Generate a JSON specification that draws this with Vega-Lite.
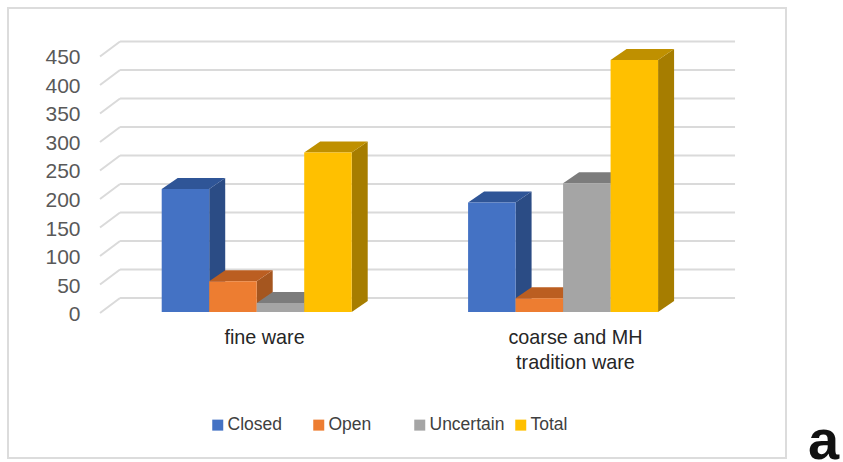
{
  "$schema": "https://vega.github.io/schema/vega-lite/v6.json",
  "width": 778,
  "height": 450,
  "autosize": "none",
  "padding": {"left": 8, "top": 8, "right": 57, "bottom": 4},
  "background": "white",
  "view": {"stroke": "#dcdcdc", "strokeWidth": 2, "fill": "white"},
  "datasets": {
    "bars": [
      {"category": "fine ware", "series": "Closed", "value": 216},
      {"category": "fine ware", "series": "Open", "value": 54},
      {"category": "fine ware", "series": "Uncertain", "value": 16},
      {"category": "fine ware", "series": "Total", "value": 280},
      {"category": "coarse and MH tradition ware", "series": "Closed", "value": 192},
      {"category": "coarse and MH tradition ware", "series": "Open", "value": 24},
      {"category": "coarse and MH tradition ware", "series": "Uncertain", "value": 226},
      {"category": "coarse and MH tradition ware", "series": "Total", "value": 442}
    ],
    "ticks": [
      {"tick": 0}, {"tick": 50}, {"tick": 100}, {"tick": 150}, {"tick": 200},
      {"tick": 250}, {"tick": 300}, {"tick": 350}, {"tick": 400}, {"tick": 450}
    ],
    "note": [{"label": "a"}]
  },
  "layer": [
    {
      "data": {"name": "ticks"},
      "transform": [{"calculate": "datum.tick + 24.6", "as": "back"}, {"calculate": "datum.tick - 1.75", "as": "front"}],
      "mark": {"type": "rule", "color": "#dadada", "strokeWidth": 2},
      "encoding": {
        "x": {
          "datum": -0.877,
          "type": "quantitative",
          "scale": {"domain": [-3.236, 13.143], "nice": false, "zero": false},
          "axis": {
            "title": null, "orient": "bottom", "offset": -146, "grid": false, "domain": false, "ticks": false,
            "values": [2.154, 8.7],
            "labelExpr": "datum.value < 5 ? 'fine ware' : ['coarse and MH', 'tradition ware']",
            "labelFont": "Liberation Sans", "labelFontSize": 19.8, "labelColor": "#262626",
            "labelPadding": 15.5, "labelLineHeight": 25, "labelFlush": false, "labelOverlap": false, "labelBound": false
          }
        },
        "x2": {"datum": 12.07},
        "y": {
          "field": "back",
          "type": "quantitative",
          "scale": {"domain": [-256.1, 533.3], "nice": false, "zero": false},
          "axis": {
            "title": null, "orient": "left", "offset": -72, "grid": false, "domain": false, "ticks": false,
            "values": [0, 50, 100, 150, 200, 250, 300, 350, 400, 450],
            "labelFont": "Liberation Sans", "labelFontSize": 21, "labelColor": "#595959",
            "labelPadding": 0, "labelOffset": 2.5, "labelBound": false, "labelFlush": false, "labelOverlap": false
          }
        }
      }
    },
    {
      "data": {"name": "ticks"},
      "transform": [{"calculate": "datum.tick + 24.6", "as": "back"}, {"calculate": "datum.tick - 1.75", "as": "front"}],
      "mark": {"type": "rule", "color": "#dadada", "strokeWidth": 2},
      "encoding": {
        "x": {"datum": -1.299, "type": "quantitative"},
        "x2": {"datum": -0.877},
        "y": {"field": "front", "type": "quantitative"},
        "y2": {"field": "back"}
      }
    },
    {
      "data": {"name": "bars"},
      "transform": [
        {"calculate": "(datum.category == 'fine ware' ? 0 : 6.45) + indexof(['Closed','Open','Uncertain','Total'], datum.series)", "as": "left"},
        {"calculate": "[0, 1]", "as": "t"},
        {"flatten": ["t"]},
        {"calculate": "datum.left + 1 + datum.t * 0.337", "as": "sx"},
        {"calculate": "datum.t * 19.3", "as": "sy0"},
        {"calculate": "datum.value + datum.t * 19.3", "as": "sy1"}
      ],
      "mark": {"type": "area", "interpolate": "linear", "line": false},
      "encoding": {
        "x": {"field": "sx", "type": "quantitative"},
        "y": {"field": "sy1", "type": "quantitative"},
        "y2": {"field": "sy0"},
        "detail": {"field": "category"},
        "color": {
          "field": "series", "type": "nominal", "legend": null,
          "scale": {"domain": ["Closed", "Open", "Uncertain", "Total"], "range": ["#2b4c85", "#a5561f", "#6e6e6e", "#a67d00"]}
        }
      }
    },
    {
      "data": {"name": "bars"},
      "transform": [
        {"calculate": "(datum.category == 'fine ware' ? 0 : 6.45) + indexof(['Closed','Open','Uncertain','Total'], datum.series)", "as": "left"},
        {"calculate": "[0, 1, 2, 3]", "as": "t"},
        {"flatten": ["t"]},
        {"calculate": "datum.left + [0, 0.337, 1, 1.337][datum.t]", "as": "tx"},
        {"calculate": "datum.value + [0, 0, 0, 19.3][datum.t]", "as": "ty0"},
        {"calculate": "datum.value + [0, 19.3, 19.3, 19.3][datum.t]", "as": "ty1"}
      ],
      "mark": {"type": "area", "interpolate": "linear", "line": false},
      "encoding": {
        "x": {"field": "tx", "type": "quantitative"},
        "y": {"field": "ty1", "type": "quantitative"},
        "y2": {"field": "ty0"},
        "detail": {"field": "category"},
        "color": {
          "field": "series", "type": "nominal", "legend": null,
          "scale": {"domain": ["Closed", "Open", "Uncertain", "Total"], "range": ["#2f5597", "#bb5e21", "#7c7c7c", "#bf9000"]}
        }
      }
    },
    {
      "data": {"name": "bars"},
      "transform": [
        {"calculate": "(datum.category == 'fine ware' ? 0 : 6.45) + indexof(['Closed','Open','Uncertain','Total'], datum.series)", "as": "left"},
        {"calculate": "datum.left + 1", "as": "right"}
      ],
      "mark": {"type": "rect"},
      "encoding": {
        "x": {"field": "left", "type": "quantitative"},
        "x2": {"field": "right"},
        "y": {"field": "value", "type": "quantitative"},
        "y2": {"datum": 0},
        "color": {
          "field": "series", "type": "nominal",
          "scale": {"domain": ["Closed", "Open", "Uncertain", "Total"], "range": ["#4472c4", "#ed7d31", "#a5a5a5", "#ffc000"]},
          "legend": {
            "title": null, "orient": "none", "legendX": 201, "legendY": 408, "direction": "horizontal", "columns": 4,
            "gridAlign": "all", "columnPadding": 7,
            "symbolType": "square", "symbolSize": 121, "symbolStrokeWidth": 0, "symbolOffset": 0,
            "labelFont": "Liberation Sans", "labelFontSize": 17.5, "labelColor": "#404040", "labelOffset": 1
          }
        }
      }
    },
    {
      "data": {"name": "note"},
      "mark": {"type": "text", "align": "left", "baseline": "alphabetic", "font": "Liberation Sans", "fontSize": 56, "fontWeight": "bold", "color": "#111111", "clip": false},
      "encoding": {
        "x": {"datum": 13.606, "type": "quantitative"},
        "y": {"datum": -257.9, "type": "quantitative"},
        "text": {"field": "label"}
      }
    }
  ],
  "resolve": {"scale": {"color": "independent"}}
}
